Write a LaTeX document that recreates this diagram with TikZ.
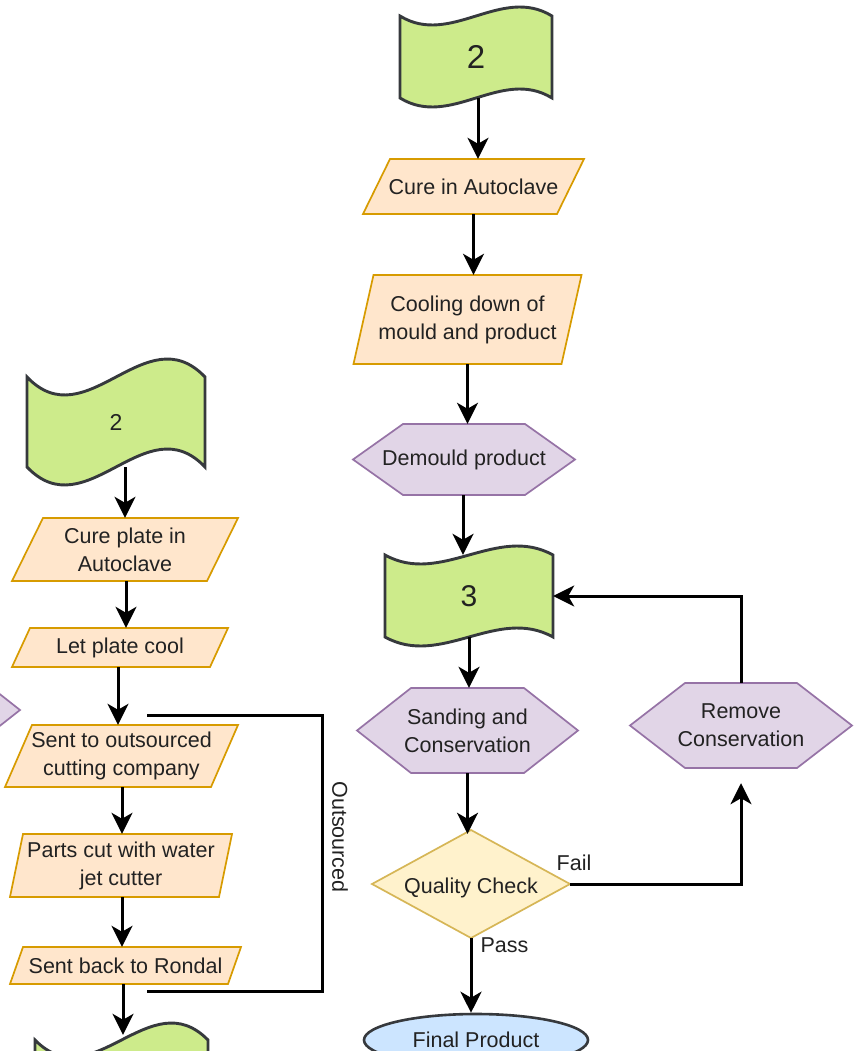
\documentclass[tikz,border=0pt]{standalone}
\usepackage{fontspec}
\setmainfont{Liberation Sans}
\usetikzlibrary{arrows.meta,shapes.geometric}
\definecolor{tapefill}{HTML}{CDEB8B}
\definecolor{tapedraw}{HTML}{36393D}
\definecolor{parafill}{HTML}{FFE6CC}
\definecolor{paradraw}{HTML}{D79B00}
\definecolor{hexfill}{HTML}{E1D5E7}
\definecolor{hexdraw}{HTML}{9673A6}
\definecolor{diafill}{HTML}{FFF2CC}
\definecolor{diadraw}{HTML}{D6B656}
\definecolor{ellfill}{HTML}{CCE5FF}
\definecolor{txtc}{HTML}{222222}
\tikzset{
  lbl/.style={inner sep=0pt, align=center, text=txtc, font=\fontsize{21.5}{28}\selectfont},
  paras/.style={fill=parafill, draw=paradraw, line width=1.7pt, line join=miter},
  hexs/.style={fill=hexfill, draw=hexdraw, line width=1.7pt},
  tapes/.style={fill=tapefill, draw=tapedraw, line width=2.9pt},
  dias/.style={fill=diafill, draw=diadraw, line width=1.7pt},
  ar/.style={-{Stealth[length=21pt,width=21pt,inset=6pt]}, line width=3pt, draw=black},
  ln/.style={line width=3pt, draw=black}
}
% name, cx, cy, w, h, slant, text
\newcommand\mypara[7]{%
  \path[paras] ({#2-#4/2+#6/2},{#3-#5/2}) -- ({#2+#4/2+#6/2},{#3-#5/2}) -- ({#2+#4/2-#6/2},{#3+#5/2}) -- ({#2-#4/2-#6/2},{#3+#5/2}) -- cycle;
  \node[lbl, minimum width=#4pt, minimum height=#5pt] (#1) at (#2,#3) {#7};
}
% name, cx, cy, w, h, inset, text
\newcommand\myhexa[7]{%
  \path[hexs] ({#2-#4/2},#3) -- ({#2-#4/2+#6},{#3-#5/2}) -- ({#2+#4/2-#6},{#3-#5/2}) -- ({#2+#4/2},#3) -- ({#2+#4/2-#6},{#3+#5/2}) -- ({#2-#4/2+#6},{#3+#5/2}) -- cycle;
  \node[lbl, minimum width=#4pt, minimum height=#5pt] (#1) at (#2,#3) {#7};
}
% name, x0, x1, yt, yb, amplitude, text, font size
\newcommand\mytape[8]{%
  \path[tapes] (#2,#4) .. controls ({#2+(#3-#2)/3},{#4+3.46*#6}) and ({#2+2*(#3-#2)/3},{#4-3.46*#6}) .. (#3,#4)
     -- (#3,#5) .. controls ({#2+2*(#3-#2)/3},{#5-3.46*#6}) and ({#2+(#3-#2)/3},{#5+3.46*#6}) .. (#2,#5) -- cycle;
  \node[lbl, font=\fontsize{#8}{#8}\selectfont, minimum width={(#3-#2)*1pt}, minimum height={(#5-#4)*1pt}] (#1) at ({(#2+#3)/2},{(#4+#5)/2}) {#7};
}
\begin{document}
\begin{tikzpicture}[x=1pt,y=-1pt]
\useasboundingbox (0,0) rectangle (856,1051);
\clip (0,0) rectangle (856,1051);
\fill[white] (0,0) rectangle (856,1051);

% ---------- right column ----------
\mytape{tr}{400}{552}{16}{98}{9}{2}{33}
\mypara{cure}{473.5}{186.5}{194}{55}{27}{Cure in Autoclave}
\mypara{cool}{467.5}{319.5}{208}{89}{20}{Cooling down of\\mould and product}
\myhexa{dem}{464}{459.5}{222}{71}{50}{Demould product}
\mytape{tt}{385}{553}{555}{637}{9}{3}{30}
\myhexa{sand}{467.5}{730.5}{221}{85}{54}{Sanding and\\Conservation}
\myhexa{rem}{741}{725.5}{222}{85}{55}{Remove\\Conservation}
\path[dias] (372,884) -- (471,830) -- (570,884) -- (471,938) -- cycle;
\node[lbl, minimum width=198pt, minimum height=108pt] (qc) at (471,888) {Quality Check};
\node[ellipse, fill=ellfill, draw=tapedraw, line width=2.6pt, minimum width=224pt, minimum height=52pt, inner sep=0pt, text=txtc, font=\fontsize{21.5}{27}\selectfont] (fin) at (476,1040) {Final Product};

\draw[ar] ([xshift=2pt]tr.south) -- ([xshift=2pt]tr.south |- cure.north);
\draw[ar] (cure.south) -- (cure.south |- cool.north);
\draw[ar] (cool.south) -- (cool.south |- dem.north);
\draw[ar] ([xshift=-1pt]dem.south) -- ([xshift=-1pt]dem.south |- tt.north);
\draw[ar] (tt.south) -- (tt.south |- sand.north);
\draw[ar] (sand.south) -- (sand.south |- qc.north);
\draw[ar] ([yshift=4pt]qc.south) -- (qc.south |- fin.north) node[lbl, pos=0.1, right=8pt] (pass) {Pass};
\draw[ar, shorten >=15pt] ([yshift=4pt]qc.east) -| (rem.south);
\node[lbl] (fail) at (574,863) {Fail};
\draw[ar] (rem.north) |- (tt.east);

% ---------- left column ----------
\myhexa{frag}{-91}{710}{222}{85}{54}{}
\mytape{tl}{27}{205}{377}{467}{18}{2}{23}
\mypara{cp}{125}{549.5}{195}{63}{31}{Cure plate in\\Autoclave}
\mypara{lc}{120}{647.5}{198}{39}{18}{Let plate cool}
\mypara{so}{121.5}{756}{206}{62}{27}{Sent to outsourced\\cutting company}
\mypara{pc}{121}{865.5}{209}{63}{13}{Parts cut with water\\jet cutter}
\mypara{sb}{125.5}{965.5}{218}{37}{13}{Sent back to Rondal}
\mytape{tb}{35}{208}{1040}{1140}{17}{}{20}

\draw[ar] ([xshift=9pt]tl.south) -- ([xshift=9pt]tl.south |- cp.north);
\draw[ar] ([xshift=1pt]cp.south) -- ([xshift=1pt]cp.south |- lc.north);
\draw[ar] ([xshift=-2pt]lc.south) -- ([xshift=-2pt]lc.south |- so.north);
\draw[ar] ([xshift=0.5pt]so.south) -- ([xshift=0.5pt]so.south |- pc.north);
\draw[ar] ([xshift=1pt]pc.south) -- ([xshift=1pt]pc.south |- sb.north);
\draw[ar] ([xshift=-2.5pt]sb.south) -- ([xshift=-2.5pt,yshift=5pt]sb.south |- tb.north);

\coordinate (o1) at (147,715);
\coordinate (o2) at (147,991);
\draw[ln] (o1) -- ++(175,0) |- (o2);
\node[lbl, rotate=-90] (outs) at (340,837) {Outsourced};
\end{tikzpicture}
\end{document}
